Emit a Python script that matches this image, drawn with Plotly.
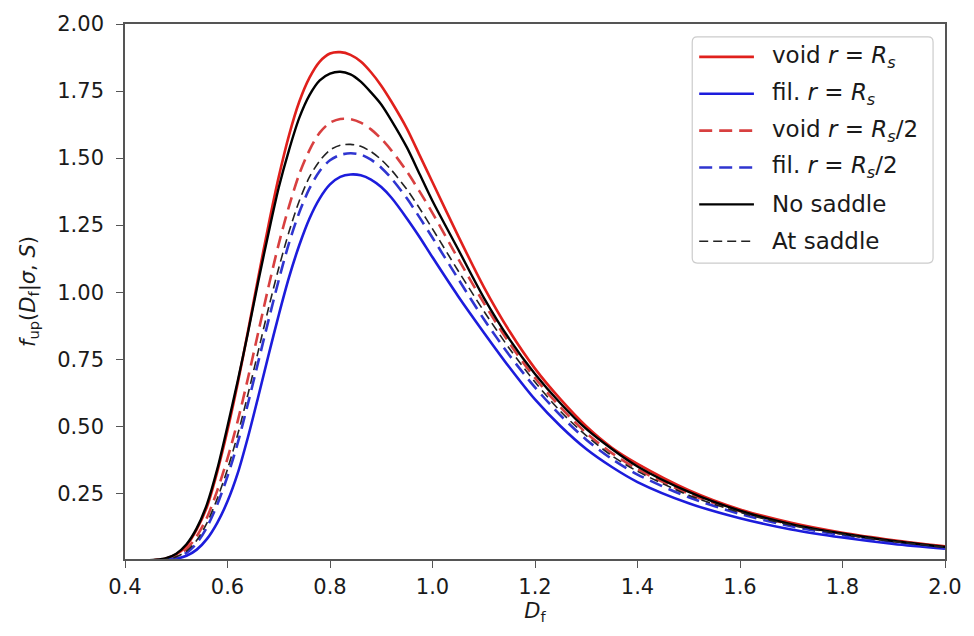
import plotly.graph_objects as go

# Shared x grid (D_f)
d_f = [0.44, 0.46, 0.48, 0.50, 0.52, 0.54, 0.56, 0.58, 0.60, 0.62, 0.64, 0.66, 0.68, 0.70,
       0.72, 0.74, 0.76, 0.78, 0.80, 0.82, 0.84, 0.86, 0.88, 0.90, 0.92, 0.95, 0.975, 1.00,
       1.05, 1.10, 1.15, 1.20, 1.25, 1.30, 1.35, 1.40, 1.50, 1.60, 1.70, 1.80, 1.90, 2.00]

void_rs = [0, 0.001, 0.007, 0.022, 0.055, 0.115, 0.20, 0.33, 0.485, 0.66, 0.855, 1.055, 1.25, 1.43,
           1.585, 1.71, 1.80, 1.86, 1.89, 1.895, 1.885, 1.86, 1.82, 1.77, 1.71, 1.61, 1.51, 1.41,
           1.21, 1.02, 0.855, 0.715, 0.60, 0.50, 0.42, 0.36, 0.262, 0.19, 0.14, 0.103, 0.075, 0.052]

fil_rs = [0, 0, 0.002, 0.006, 0.017, 0.04, 0.08, 0.14, 0.22, 0.325, 0.46, 0.61, 0.765, 0.915,
          1.055, 1.175, 1.275, 1.35, 1.402, 1.43, 1.439, 1.436, 1.42, 1.392, 1.352, 1.275, 1.205, 1.13,
          0.985, 0.85, 0.72, 0.60, 0.50, 0.415, 0.348, 0.292, 0.213, 0.157, 0.115, 0.085, 0.061, 0.043]

void_rs2 = [0, 0.001, 0.005, 0.016, 0.042, 0.09, 0.16, 0.26, 0.38, 0.52, 0.68, 0.85, 1.02, 1.18,
            1.32, 1.44, 1.53, 1.595, 1.632, 1.646, 1.645, 1.632, 1.607, 1.572, 1.528, 1.45, 1.375, 1.295,
            1.125, 0.96, 0.81, 0.68, 0.57, 0.475, 0.40, 0.34, 0.248, 0.183, 0.134, 0.099, 0.072, 0.05]

fil_rs2 = [0, 0, 0.003, 0.01, 0.028, 0.064, 0.124, 0.208, 0.313, 0.438, 0.585, 0.74, 0.895, 1.045,
           1.183, 1.297, 1.387, 1.452, 1.492, 1.512, 1.518, 1.513, 1.494, 1.464, 1.424, 1.35, 1.278, 1.203,
           1.05, 0.90, 0.765, 0.645, 0.54, 0.45, 0.378, 0.32, 0.235, 0.173, 0.127, 0.094, 0.068, 0.047]

no_saddle = [0, 0.002, 0.008, 0.025, 0.06, 0.12, 0.21, 0.34, 0.50, 0.67, 0.85, 1.04, 1.22, 1.39,
             1.53, 1.65, 1.735, 1.79, 1.815, 1.822, 1.812, 1.785, 1.745, 1.70, 1.64, 1.54, 1.44, 1.34,
             1.16, 0.98, 0.825, 0.695, 0.585, 0.49, 0.415, 0.35, 0.255, 0.185, 0.135, 0.10, 0.072, 0.05]

at_saddle = [0, 0, 0.004, 0.013, 0.034, 0.075, 0.14, 0.23, 0.34, 0.47, 0.62, 0.78, 0.94, 1.09,
             1.225, 1.34, 1.43, 1.49, 1.53, 1.548, 1.551, 1.544, 1.524, 1.494, 1.455, 1.383, 1.312, 1.236,
             1.08, 0.93, 0.79, 0.665, 0.555, 0.465, 0.39, 0.332, 0.243, 0.179, 0.131, 0.097, 0.07, 0.049]

x_ticks = [0.4, 0.6, 0.8, 1.0, 1.2, 1.4, 1.6, 1.8, 2.0]
y_ticks = [0.25, 0.50, 0.75, 1.00, 1.25, 1.50, 1.75, 2.00]

legend_labels = [
    "void <i>r</i> = <i>R<sub>s</sub></i>",
    "fil. <i>r</i> = <i>R<sub>s</sub></i>",
    "void <i>r</i> = <i>R<sub>s</sub></i>/2",
    "fil. <i>r</i> = <i>R<sub>s</sub></i>/2",
    "No saddle",
    "At saddle",
]

RED = "#e0201c"
RED_D = "#d84040"
BLUE = "#1c1cdc"
BLUE_D = "#2f35d0"
BLACK = "#000000"

styles = [
    (void_rs, RED, 2.6, "solid"),
    (fil_rs, BLUE, 2.6, "solid"),
    (void_rs2, RED_D, 2.6, "13px,7px"),
    (fil_rs2, BLUE_D, 2.6, "13px,7px"),
    (no_saddle, BLACK, 2.4, "solid"),
    (at_saddle, "#222222", 1.6, "9px,5px"),
]

fig = go.Figure()
for name, (ys, col, w, dash) in zip(legend_labels, styles):
    fig.add_trace(go.Scatter(
        x=d_f, y=ys, mode="lines", name=name, showlegend=False,
        line=dict(color=col, width=w, dash=dash, shape="spline", smoothing=0.8),
    ))

# ---- manual legend (matplotlib-like), placed in paper coordinates ----
W, H = 974, 636
ML, MR, MT, MB = 125, 25, 22, 77
PW, PH = W - ML - MR, H - MT - MB


def px(xp):
    return (xp - ML) / PW


def py(yp):
    return (H - MB - yp) / PH


bx0, bx1, by0, by1, rad = 695, 937, 35, 262, 5
path = (f"M {px(bx0 + rad)} {py(by0)} L {px(bx1 - rad)} {py(by0)} "
        f"Q {px(bx1)} {py(by0)} {px(bx1)} {py(by0 + rad)} "
        f"L {px(bx1)} {py(by1 - rad)} Q {px(bx1)} {py(by1)} {px(bx1 - rad)} {py(by1)} "
        f"L {px(bx0 + rad)} {py(by1)} Q {px(bx0)} {py(by1)} {px(bx0)} {py(by1 - rad)} "
        f"L {px(bx0)} {py(by0 + rad)} Q {px(bx0)} {py(by0)} {px(bx0 + rad)} {py(by0)} Z")
shapes = [dict(type="path", xref="paper", yref="paper", path=path,
               fillcolor="rgba(255,255,255,0.85)", line=dict(color="#cccccc", width=1.2), layer="above")]
annotations = []
FONT = "DejaVu Sans, Liberation Sans, sans-serif"
for i, (name, (ys, col, w, dash)) in enumerate(zip(legend_labels, styles)):
    yc = 55 + 37 * i
    shapes.append(dict(type="line", xref="paper", yref="paper",
                       x0=px(702), x1=px(757), y0=py(yc), y1=py(yc),
                       line=dict(color=col, width=w, dash=dash), layer="above"))
    annotations.append(dict(xref="paper", yref="paper", x=px(773), y=py(yc),
                            xanchor="left", yanchor="middle", showarrow=False,
                            text=name, font=dict(family=FONT, size=23, color="#1a1a1a")))

fig.update_layout(
    width=W, height=H,
    margin=dict(l=ML, r=MR, t=MT, b=MB),
    paper_bgcolor="white", plot_bgcolor="white",
    font=dict(family=FONT, size=21, color="#1a1a1a"),
    showlegend=False,
    shapes=shapes,
    annotations=annotations,
)
fig.update_xaxes(
    range=[0.4, 2.0], tickvals=x_ticks, tickformat=".1f",
    showline=True, linecolor="#555555", linewidth=1.6, mirror=True,
    ticks="outside", ticklen=7, tickwidth=1.4, tickcolor="#555555",
    showgrid=False, zeroline=False, ticklabelstandoff=1,
    title=dict(text="<i>D</i><sub>f</sub>", standoff=0, font=dict(size=21)),
)
fig.update_yaxes(
    range=[0.005, 2.0], tickvals=y_ticks, tickformat=".2f",
    showline=True, linecolor="#555555", linewidth=1.6, mirror=True,
    ticks="outside", ticklen=7, tickwidth=1.4, tickcolor="#555555",
    showgrid=False, zeroline=False, ticklabelstandoff=8,
    title=dict(text="<i>f</i><sub>up</sub>(<i>D</i><sub>f</sub>|<i>σ</i>, <i>S</i>)", standoff=16, font=dict(size=21)),
)

fig.write_html("out.html")
